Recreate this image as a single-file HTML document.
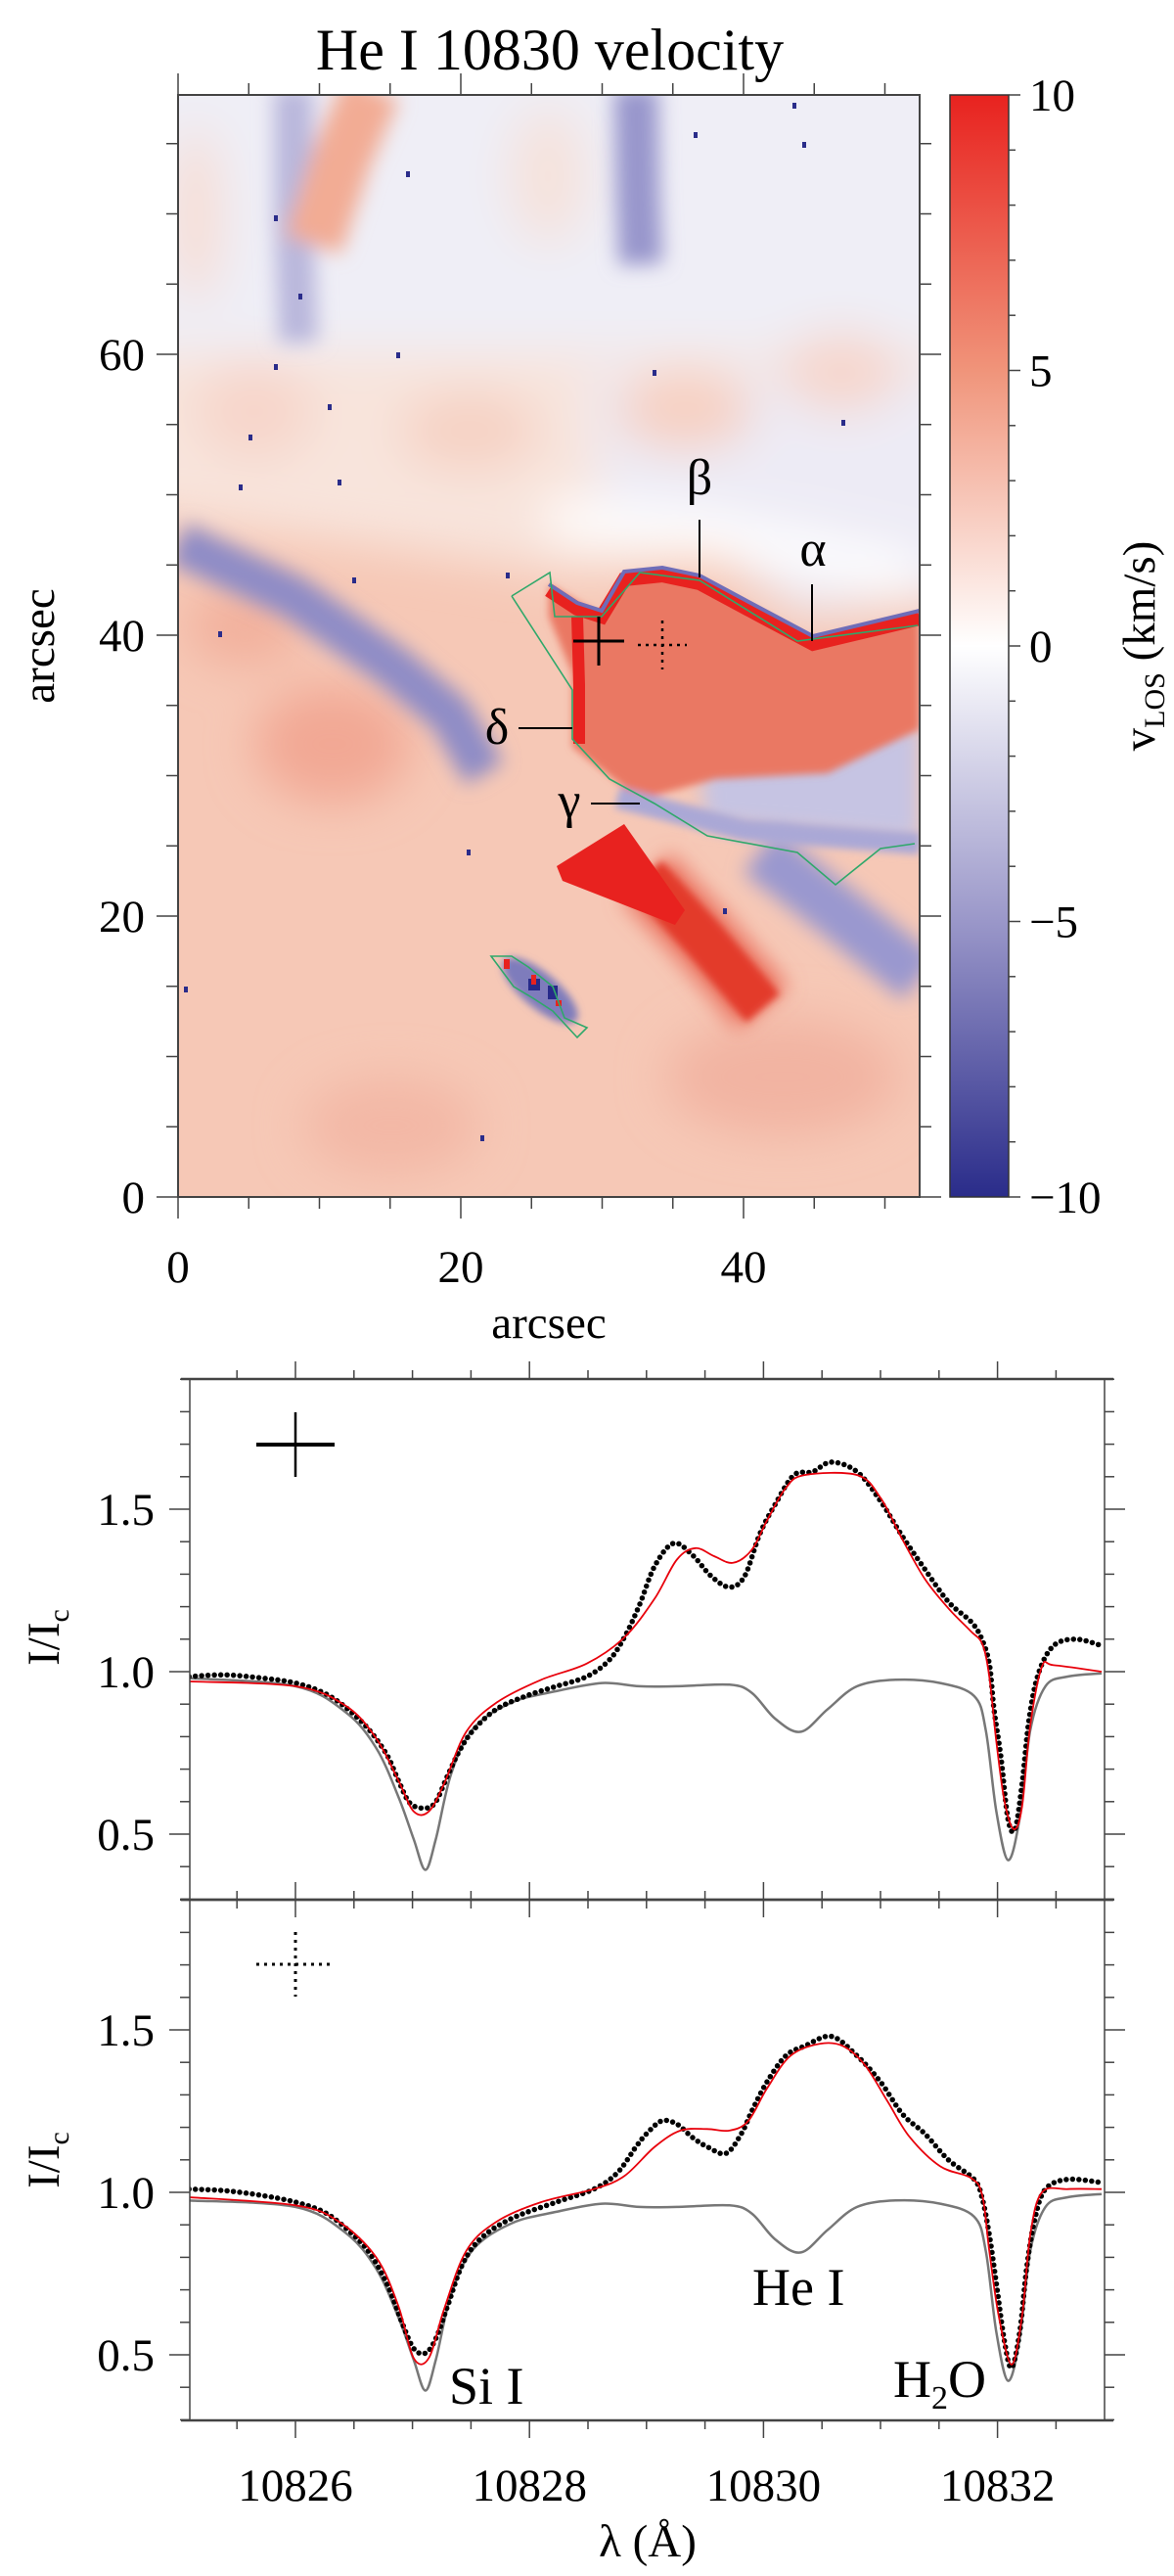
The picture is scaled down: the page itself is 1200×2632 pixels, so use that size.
<!DOCTYPE html>
<html><head><meta charset="utf-8"><title>He I 10830 velocity</title>
<style>
html,body{margin:0;padding:0;background:#fff;}
svg{display:block;}
text{font-family:"Liberation Serif",serif;fill:#000;}
</style></head>
<body>
<svg id="fig" width="1200" height="2632" viewBox="0 0 1200 2632" xmlns="http://www.w3.org/2000/svg">
<defs>
  <clipPath id="mapclip"><rect x="182" y="97" width="758" height="1126"/></clipPath>
  <clipPath id="p1clip"><rect x="194" y="1409" width="935" height="532"/></clipPath>
  <clipPath id="p2clip"><rect x="194" y="1941" width="935" height="532"/></clipPath>
  <filter id="blurbig" x="-30%" y="-30%" width="160%" height="160%"><feGaussianBlur stdDeviation="24"/></filter>
  <filter id="blur" x="-30%" y="-30%" width="160%" height="160%"><feGaussianBlur stdDeviation="10"/></filter>
  <filter id="blur2" x="-20%" y="-20%" width="140%" height="140%"><feGaussianBlur stdDeviation="4"/></filter>
  <linearGradient id="cbar" x1="0" y1="0" x2="0" y2="1">
    <stop offset="0" stop-color="#e8221f"/>
    <stop offset="0.25" stop-color="#f0947a"/>
    <stop offset="0.5" stop-color="#ffffff"/>
    <stop offset="0.75" stop-color="#9a97c9"/>
    <stop offset="1" stop-color="#2a2c8a"/>
  </linearGradient>
</defs>

<text x="562" y="71" font-size="60" text-anchor="middle">He I 10830 velocity</text>

<g id="map" clip-path="url(#mapclip)">
  <rect x="182" y="97" width="758" height="1126" fill="#f6c8b6"/>
  <g filter="url(#blurbig)">
    <rect x="100" y="20" width="900" height="360" fill="#efeef6"/>
    <polygon points="100,360 1000,360 1000,560 760,570 600,590 400,560 100,520" fill="#f8e4dc"/>
    <polygon points="600,380 1000,380 1000,610 820,630 720,560 620,560" fill="#edebf5"/>
    <ellipse cx="700" cy="420" rx="70" ry="40" fill="#f6d0c2"/>
    <ellipse cx="860" cy="380" rx="60" ry="40" fill="#f6d6cc"/>
    <ellipse cx="260" cy="420" rx="60" ry="50" fill="#f7d6cb"/>
    <ellipse cx="480" cy="440" rx="70" ry="40" fill="#f6d2c4"/>
    <ellipse cx="560" cy="180" rx="40" ry="70" fill="#f5e2dc"/>
    <ellipse cx="200" cy="220" rx="25" ry="90" fill="#f7dcd2"/>
    <polyline points="560,530 700,540 850,570 940,590" stroke="#ffffff" stroke-width="40" fill="none"/>
    <ellipse cx="340" cy="760" rx="80" ry="60" fill="#f2a894"/>
    <ellipse cx="250" cy="640" rx="60" ry="40" fill="#f2b09c"/>
    <ellipse cx="800" cy="1100" rx="120" ry="60" fill="#f2b4a2"/>
    <ellipse cx="400" cy="1150" rx="90" ry="50" fill="#f3b8a6"/>
  </g>
  <g filter="url(#blur)">
    <polyline points="300,90 300,220 305,350" stroke="#b9b7dc" stroke-width="40" fill="none"/>
    <polyline points="650,90 652,200 655,270" stroke="#9896cc" stroke-width="45" fill="none"/>
    <polyline points="380,90 350,160 320,250" stroke="#f2ac94" stroke-width="60" fill="none"/>
    <polyline points="182,555 300,610 400,680 460,730 495,790" stroke="#8f8cc6" stroke-width="44" fill="none"/>
    <polyline points="777,870 860,935 940,1000" stroke="#9a98cf" stroke-width="55" fill="none"/>
    <polygon points="715,746 940,740 940,860 720,840" fill="#c6c4e3"/>
    <polyline points="660,895 720,960 780,1030" stroke="#ec7a68" stroke-width="70" fill="none"/>
  </g>
  <g filter="url(#blur2)">
    <polygon points="561,597 615,630 638,589 677,585 715,593 769,622 831,655 940,630 940,745 846,790 731,796 654,817 585,763 585,688 561,630" fill="#ea7863"/>
    <polyline points="631,815 760,848 940,862" stroke="#aaa8d6" stroke-width="22" fill="none"/>
    <polyline points="660,895 720,960 780,1030" stroke="#e33a2a" stroke-width="45" fill="none"/>
    <ellipse cx="552" cy="1012" rx="48" ry="18" transform="rotate(40 552 1012)" fill="#7e7cbc"/>
  </g>
  <polyline points="561,603 590,622 615,630 638,592 677,588 715,596 769,625 831,658 940,632" stroke="#e8221f" stroke-width="14" fill="none"/>
  <polyline points="561,597 590,616 615,624 638,584 677,580 715,588 769,617 831,650 940,624" stroke="#6f6db8" stroke-width="4" fill="none"/>
  <polyline points="590,630 592,700 592,760" stroke="#e8221f" stroke-width="12" fill="none"/>
  <polygon points="569,885 638,842 700,930 690,945 575,900" fill="#e8221f"/>
  <rect x="540" y="1000" width="12" height="12" fill="#262a8a"/>
  <rect x="560" y="1007" width="10" height="14" fill="#262a8a"/>
  <rect x="515" y="980" width="6" height="10" fill="#e8221f"/>
  <rect x="543" y="996" width="5" height="10" fill="#e8221f"/>
  <rect x="568" y="1022" width="6" height="6" fill="#e8221f"/>
  <g fill="#2a2c8a">
    <rect x="810" y="105" width="4" height="6"/><rect x="709" y="135" width="4" height="6"/>
    <rect x="820" y="145" width="4" height="6"/><rect x="415" y="175" width="4" height="6"/>
    <rect x="280" y="220" width="4" height="6"/><rect x="305" y="300" width="4" height="6"/>
    <rect x="405" y="360" width="4" height="6"/><rect x="280" y="372" width="4" height="6"/>
    <rect x="667" y="378" width="4" height="6"/><rect x="335" y="413" width="4" height="6"/>
    <rect x="254" y="444" width="4" height="6"/><rect x="860" y="429" width="4" height="6"/>
    <rect x="345" y="490" width="4" height="6"/><rect x="244" y="495" width="4" height="6"/>
    <rect x="360" y="590" width="4" height="6"/><rect x="517" y="585" width="4" height="6"/>
    <rect x="223" y="645" width="4" height="6"/><rect x="477" y="868" width="4" height="6"/>
    <rect x="739" y="928" width="4" height="6"/><rect x="188" y="1008" width="4" height="6"/>
    <rect x="491" y="1160" width="4" height="6"/>
  </g>
  <polyline points="523,609 562,585 567,630 615,630 654,585 715,593 815,655 938,639" stroke="#2fa86a" stroke-width="1.6" fill="none"/>
  <polyline points="523,609 585,705 585,755 623,796 669,821 723,854 815,871 854,904 900,867 935,862" stroke="#2fa86a" stroke-width="1.6" fill="none"/>
  <polygon points="502,977 523,977 540,988 565,1008 577,1040 600,1050 590,1060 565,1033 545,1020 525,1008" stroke="#2fa86a" stroke-width="1.6" fill="none"/>
</g>

<g>
  <line x1="586" y1="655" x2="638" y2="655" stroke="#000" stroke-width="3"/>
  <line x1="612" y1="630" x2="612" y2="680" stroke="#000" stroke-width="3"/>
  <line x1="652" y1="659" x2="702" y2="659" stroke="#000" stroke-width="2.5" stroke-dasharray="3 5"/>
  <line x1="677" y1="634" x2="677" y2="684" stroke="#000" stroke-width="2.5" stroke-dasharray="3 5"/>
  <text x="715" y="505" font-size="52" text-anchor="middle">β</text>
  <line x1="715" y1="531" x2="715" y2="590" stroke="#000" stroke-width="2"/>
  <text x="831" y="578" font-size="52" text-anchor="middle">α</text>
  <line x1="830" y1="597" x2="830" y2="655" stroke="#000" stroke-width="2"/>
  <text x="508" y="760" font-size="52" text-anchor="middle">δ</text>
  <line x1="530" y1="744" x2="585" y2="744" stroke="#000" stroke-width="2"/>
  <text x="582" y="835" font-size="52" text-anchor="middle">γ</text>
  <line x1="604" y1="821" x2="654" y2="821" stroke="#000" stroke-width="2"/>
</g>

<g id="mapaxes"></g>

<rect x="971" y="97" width="60" height="1126" fill="url(#cbar)" stroke="#333" stroke-width="1.5"/>
<g id="cbaxes"></g>
<text transform="translate(1180 660) rotate(-90)" font-size="47" text-anchor="middle">v<tspan font-size="30" dy="10">LOS</tspan><tspan dy="-10"> (km/s)</tspan></text>
<text transform="translate(55 660) rotate(-90)" font-size="47" text-anchor="middle">arcsec</text>
<text x="561" y="1367" font-size="47" text-anchor="middle">arcsec</text>

<g id="spec"></g>

<text transform="translate(60 1673) rotate(-90)" font-size="47" text-anchor="middle">I/I<tspan font-size="30" dy="10">c</tspan></text>
<text transform="translate(60 2207) rotate(-90)" font-size="47" text-anchor="middle">I/I<tspan font-size="30" dy="10">c</tspan></text>
<text x="662" y="2612" font-size="47" text-anchor="middle">λ (Å)</text>
<text x="459" y="2456" font-size="54">Si I</text>
<text x="913" y="2449" font-size="54">H<tspan font-size="34" dy="12">2</tspan><tspan dy="-12">O</tspan></text>
<text x="769" y="2355" font-size="54">He I</text>

<line x1="262" y1="1476" x2="342" y2="1476" stroke="#000" stroke-width="4"/>
<line x1="302" y1="1443" x2="302" y2="1509" stroke="#000" stroke-width="2.5"/>
<line x1="262" y1="2007" x2="342" y2="2007" stroke="#000" stroke-width="3" stroke-dasharray="3 5"/>
<line x1="302" y1="1974" x2="302" y2="2040" stroke="#000" stroke-width="3" stroke-dasharray="3 5"/>
</svg>

<script>
const mapXTicks = [0, 20, 40];
const mapYTicks = [0, 20, 40, 60];
const cbarTicks = [10, 5, 0, -5, -10];
const specXTicks = [10826, 10828, 10830, 10832];
const specYTicks = [0.5, 1.0, 1.5];

const lamObs1 = [10825.09,10825.40,10825.72,10826.00,10826.24,10826.43,10826.62,10826.78,10826.88,10826.98,10827.11,10827.20,10827.30,10827.40,10827.52,10827.72,10827.97,10828.23,10828.49,10828.68,10828.81,10828.94,10829.07,10829.23,10829.39,10829.55,10829.71,10829.84,10829.97,10830.10,10830.26,10830.42,10830.58,10830.80,10831.00,10831.19,10831.38,10831.58,10831.77,10831.86,10831.93,10831.97,10832.03,10832.09,10832.15,10832.21,10832.27,10832.35,10832.48,10832.67,10832.89];
const obs1 = [0.985,0.99,0.98,0.965,0.935,0.89,0.825,0.745,0.665,0.595,0.58,0.60,0.68,0.755,0.82,0.885,0.925,0.955,0.985,1.035,1.105,1.205,1.325,1.395,1.36,1.295,1.26,1.295,1.425,1.515,1.605,1.615,1.645,1.615,1.525,1.415,1.315,1.215,1.155,1.105,1.025,0.885,0.735,0.545,0.515,0.655,0.855,0.995,1.08,1.10,1.08];
const lamFit1 = [10825.09,10826.00,10826.43,10826.69,10826.88,10827.01,10827.14,10827.27,10827.46,10827.72,10828.10,10828.49,10828.81,10829.07,10829.26,10829.42,10829.58,10829.74,10829.90,10830.03,10830.19,10830.35,10830.80,10831.00,10831.19,10831.38,10831.58,10831.77,10831.87,10831.93,10831.99,10832.06,10832.14,10832.21,10832.28,10832.38,10832.48,10832.89];
const fit1 = [0.97,0.955,0.895,0.795,0.665,0.57,0.57,0.655,0.815,0.905,0.975,1.025,1.105,1.225,1.345,1.38,1.355,1.335,1.375,1.465,1.565,1.605,1.605,1.535,1.405,1.285,1.195,1.125,1.085,0.985,0.785,0.60,0.515,0.585,0.835,1.015,1.02,1.0];
const lamRef = [10825.09,10826.00,10826.43,10826.69,10826.88,10827.01,10827.11,10827.20,10827.33,10827.52,10827.85,10828.23,10828.62,10828.94,10829.26,10829.71,10829.90,10830.10,10830.32,10830.55,10830.80,10831.13,10831.51,10831.80,10831.90,10831.99,10832.09,10832.19,10832.28,10832.41,10832.60,10832.89];
const ref1 = [0.98,0.955,0.875,0.765,0.615,0.485,0.39,0.485,0.685,0.825,0.905,0.94,0.965,0.955,0.955,0.96,0.935,0.855,0.815,0.885,0.955,0.975,0.965,0.925,0.82,0.57,0.42,0.55,0.82,0.955,0.985,0.995];
const ref2 = [0.975,0.955,0.875,0.765,0.615,0.485,0.39,0.485,0.685,0.825,0.905,0.94,0.965,0.955,0.955,0.96,0.935,0.855,0.815,0.885,0.955,0.975,0.965,0.925,0.82,0.57,0.42,0.55,0.82,0.955,0.985,0.995];

const lamObs2 = [10825.09,10825.40,10825.72,10826.00,10826.24,10826.43,10826.62,10826.78,10826.91,10827.01,10827.11,10827.20,10827.30,10827.43,10827.59,10827.85,10828.23,10828.55,10828.75,10828.91,10829.00,10829.13,10829.26,10829.39,10829.52,10829.68,10829.81,10829.90,10830.03,10830.19,10830.35,10830.58,10830.80,10831.00,10831.19,10831.38,10831.58,10831.80,10831.87,10831.93,10831.99,10832.06,10832.12,10832.19,10832.25,10832.32,10832.41,10832.60,10832.89];
const obs2 = [1.01,1.005,0.99,0.97,0.94,0.89,0.82,0.72,0.60,0.52,0.505,0.55,0.65,0.78,0.86,0.92,0.97,1.01,1.06,1.14,1.18,1.22,1.21,1.17,1.14,1.12,1.18,1.25,1.34,1.42,1.45,1.48,1.42,1.34,1.24,1.18,1.10,1.04,0.98,0.87,0.72,0.54,0.46,0.57,0.77,0.92,1.01,1.04,1.03];
const lamFit2 = [10825.09,10826.00,10826.37,10826.69,10826.88,10827.01,10827.14,10827.27,10827.46,10827.72,10828.10,10828.55,10828.81,10829.07,10829.29,10829.52,10829.71,10829.87,10830.03,10830.23,10830.48,10830.68,10830.87,10831.06,10831.25,10831.51,10831.77,10831.87,10831.93,10832.01,10832.12,10832.21,10832.28,10832.38,10832.60,10832.89];
const fit2 = [0.985,0.96,0.91,0.80,0.65,0.49,0.49,0.64,0.82,0.91,0.97,1.01,1.05,1.14,1.19,1.195,1.19,1.22,1.32,1.42,1.457,1.45,1.39,1.28,1.17,1.08,1.045,0.99,0.82,0.62,0.47,0.62,0.87,1.0,1.01,1.01];

const NS = 'http://www.w3.org/2000/svg';
function mk(tag, attrs, parent){ const e=document.createElementNS(NS,tag); for(const k in attrs) e.setAttribute(k,attrs[k]); parent.appendChild(e); return e; }

const mx = a => 182 + 14.45*a, my = a => 1223 - 14.35*a;
const mg = document.getElementById('mapaxes');
mk('rect',{x:182,y:97,width:758,height:1126,fill:'none',stroke:'#444','stroke-width':2},mg);
for(let a=0;a<=52;a+=5){
  const big = mapXTicks.includes(a), L = big?22:12, x=mx(a);
  mk('line',{x1:x,y1:1223,x2:x,y2:1223+L,stroke:'#444','stroke-width':1.5},mg);
  mk('line',{x1:x,y1:97,x2:x,y2:97-L,stroke:'#444','stroke-width':1.5},mg);
}
for(let a=0;a<=78;a+=5){
  const big = mapYTicks.includes(a), L = big?22:12, y=my(a);
  mk('line',{x1:182,y1:y,x2:182-L,y2:y,stroke:'#444','stroke-width':1.5},mg);
  mk('line',{x1:940,y1:y,x2:940+L,y2:y,stroke:'#444','stroke-width':1.5},mg);
}
mapXTicks.forEach(v=>{ const t=mk('text',{x:mx(v),y:1310,'font-size':47,'text-anchor':'middle'},mg); t.textContent=v;

 });
mapYTicks.forEach(v=>{ const t=mk('text',{x:148,y:my(v)+16,'font-size':47,'text-anchor':'end'},mg); t.textContent=v;

 });

const cy = v => 660 - 56.3*v;
const cg = document.getElementById('cbaxes');
for(let v=-10; v<=10; v++){
  const big = v%5===0;
  mk('line',{x1:1031,y1:cy(v),x2:1031+(big?12:7),y2:cy(v),stroke:'#444','stroke-width':1.5},cg);
}
cbarTicks.forEach(v=>{ const t=mk('text',{x:1052,y:cy(v)+16,'font-size':47},cg); t.textContent = v<0 ? '\u2212'+Math.abs(v) : v;

 });

const sx = l => 302 + (l-10826)*119.6;
const sp = document.getElementById('spec');
function smoothPath(xs, ys){
  const P = xs.map((x,i)=>[x,ys[i]]);
  let d = 'M'+P[0][0].toFixed(1)+','+P[0][1].toFixed(1);
  for(let i=0;i<P.length-1;i++){
    const p0=P[Math.max(0,i-1)], p1=P[i], p2=P[i+1], p3=P[Math.min(P.length-1,i+2)];
    const c1=[p1[0]+(p2[0]-p0[0])/6, p1[1]+(p2[1]-p0[1])/6];
    const c2=[p2[0]-(p3[0]-p1[0])/6, p2[1]-(p3[1]-p1[1])/6];
    d += ' C'+c1[0].toFixed(1)+','+c1[1].toFixed(1)+' '+c2[0].toFixed(1)+','+c2[1].toFixed(1)+' '+p2[0].toFixed(1)+','+p2[1].toFixed(1);
  }
  return d;
}
function panel(idx, top, lo, obs, lf, fit, ref, clip){
  const bot = top+532;
  const y = v => (top+299) - (v-1)*332;
  const g = mk('g',{'clip-path':'url(#'+clip+')'},sp);
  
  
  const r = mk('path',{d:smoothPath(lamRef.map(sx), ref.map(y)),fill:'none',stroke:'#777','stroke-width':2.5},g);
  
  
  const o = mk('path',{d:smoothPath(lo.map(sx), obs.map(y)),fill:'none',stroke:'#000','stroke-width':5.5,'stroke-linecap':'round','stroke-dasharray':'0 6.5'},g);
  
  
  const f = mk('path',{d:smoothPath(lf.map(sx), fit.map(y)),fill:'none',stroke:'#e8000b','stroke-width':1.8},g);
  
  
  mk('line',{x1:194,y1:top,x2:194,y2:bot,stroke:'#444','stroke-width':1.5},sp);
  mk('line',{x1:1129,y1:top,x2:1129,y2:bot,stroke:'#444','stroke-width':1.5},sp);
  mk('line',{x1:185,y1:top,x2:1138,y2:top,stroke:'#444','stroke-width':2.5},sp);
  mk('line',{x1:185,y1:bot,x2:1138,y2:bot,stroke:'#444','stroke-width':2.5},sp);
  for(let k=3;k<=19;k++){
    const v=k/10, big = (k%5===0), L = big?21:10;
    mk('line',{x1:194,y1:y(v),x2:194-L,y2:y(v),stroke:'#444','stroke-width':1.5},sp);
    mk('line',{x1:1129,y1:y(v),x2:1129+L,y2:y(v),stroke:'#444','stroke-width':1.5},sp);
  }
  specYTicks.forEach(v=>{ const t=mk('text',{x:158,y:y(v)+16,'font-size':47,'text-anchor':'end'},sp); t.textContent=v.toFixed(1);
  
   });
  for(let k=0;k<=14;k++){
    const l = 10825.5 + k*0.5, big = specXTicks.includes(l), L = big?18:9, x = sx(l);
    mk('line',{x1:x,y1:bot,x2:x,y2:bot+L,stroke:'#444','stroke-width':1.5},sp);
    mk('line',{x1:x,y1:top,x2:x,y2:top-L,stroke:'#444','stroke-width':1.5},sp);
  }
}
panel(1, 1409, lamObs1, obs1, lamFit1, fit1, ref1, 'p1clip');
panel(2, 1941, lamObs2, obs2, lamFit2, fit2, ref2, 'p2clip');
specXTicks.forEach(v=>{ const t=mk('text',{x:sx(v),y:2555,'font-size':47,'text-anchor':'middle'},sp); t.textContent=v;

 });
</script>
</body></html>
